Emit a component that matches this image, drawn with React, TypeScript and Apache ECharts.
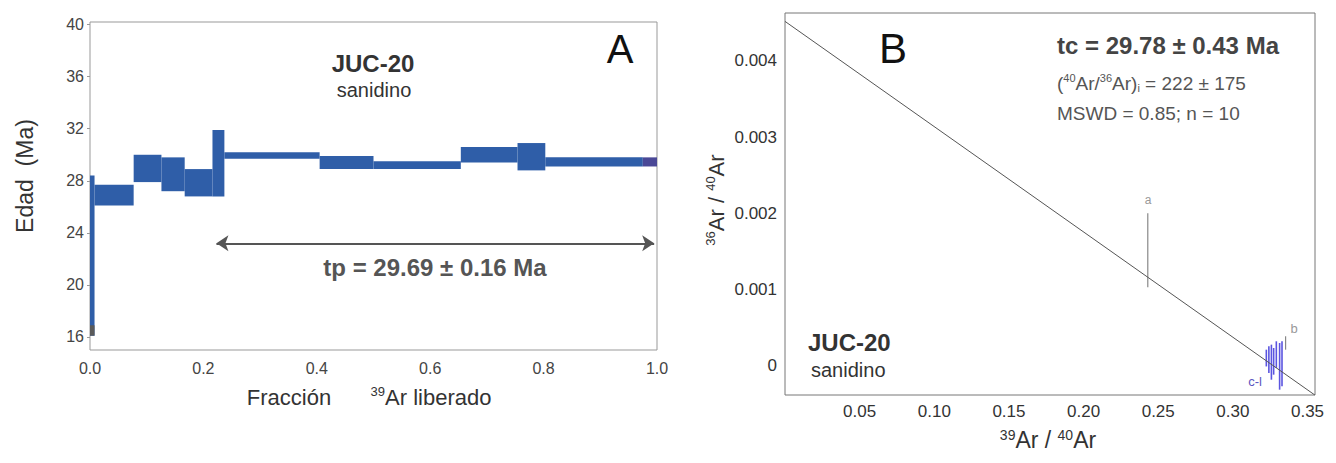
import React, { useEffect, useRef } from 'react';
import * as echarts from 'echarts';

const FONT = "'Liberation Sans', Arial, Helvetica, sans-serif";

// ---- Panel A: age spectrum ----
const stepBounds = [0, 0.008, 0.077, 0.126, 0.167, 0.216, 0.237, 0.405, 0.5, 0.654, 0.754, 0.803, 0.975, 1.0];
const ageLow = [16.1, 26.1, 27.9, 27.2, 26.8, 26.8, 29.7, 28.9, 28.9, 29.4, 28.8, 29.1, 29.1];
const ageHigh = [28.4, 27.7, 30.0, 29.8, 28.9, 31.9, 30.2, 29.9, 29.5, 30.6, 30.9, 29.8, 29.8];
const stepColors = ['#2f5ea8', '#2f5ea8', '#2f5ea8', '#2f5ea8', '#2f5ea8', '#2f5ea8', '#2f5ea8', '#2f5ea8', '#2f5ea8', '#2f5ea8', '#2f5ea8', '#2f5ea8', '#4a4896'];
const shadeStep = [0, 0.008, 16.1, 16.9];
const ageTicks = [16, 20, 24, 28, 32, 36, 40];
const fracTicks = [0, 0.2, 0.4, 0.6, 0.8, 1.0];
const plateauArrow = [[0.223, 23.2], [0.995, 23.2]];

// ---- Panel B: inverse isochron ----
const isoYIntercept = 0.00452;
const isoXIntercept = 0.327;
const isoXRange = [0, 0.355];
const pointA = { x: 0.243, low: 0.00103, high: 0.002 };
const pointB = { x: 0.3353, low: 0.00021, high: 0.000386 };
const clusterX = [0.3224, 0.3241, 0.3258, 0.3273, 0.3291, 0.3313, 0.3329];
const clusterLow = [-0.00001, -0.000096, -0.000184, -0.000118, -0.00003, -0.000315, -0.00027];
const clusterHigh = [0.00021, 0.000255, 0.000276, 0.000232, 0.00032, 0.000298, 0.00032];
const isoXTicks = [0.05, 0.1, 0.15, 0.2, 0.25, 0.3, 0.35];
const isoYTicks = [0, 0.001, 0.002, 0.003, 0.004];

function rectItem(color: string) {
  return (params: any, api: any) => {
    const p0 = api.coord([api.value(0), api.value(3)]);
    const p1 = api.coord([api.value(1), api.value(2)]);
    return {
      type: 'rect',
      shape: { x: p0[0], y: p0[1], width: p1[0] - p0[0], height: p1[1] - p0[1] },
      style: { fill: color || stepColors[params.dataIndex] },
    };
  };
}

function barItem(color: string, width: number) {
  return (params: any, api: any) => {
    const p0 = api.coord([api.value(0), api.value(1)]);
    const p1 = api.coord([api.value(0), api.value(2)]);
    return {
      type: 'line',
      shape: { x1: p0[0], y1: p0[1], x2: p1[0], y2: p1[1] },
      style: { stroke: color, lineWidth: width },
    };
  };
}

function txt(x: number, y: number, text: string, size: number, opts: any = {}) {
  return {
    type: 'text',
    x,
    y,
    rotation: opts.rotation || 0,
    style: {
      text,
      fontSize: size,
      fontFamily: FONT,
      fontWeight: opts.bold ? 'bold' : 'normal',
      fill: opts.color || '#333',
      align: opts.align || 'center',
      verticalAlign: 'middle',
      rich: opts.rich,
    },
  };
}

function supRich(size: number, color: string) {
  return {
    n: { fontSize: size, fontFamily: FONT, fill: color, lineHeight: size + 2 },
    s: { fontSize: Math.round(size * 0.6), fontFamily: FONT, fill: color, verticalAlign: 'top', lineHeight: Math.round(size * 0.6) },
    b: { fontSize: Math.round(size * 0.6), fontFamily: FONT, fill: color, verticalAlign: 'bottom', lineHeight: Math.round(size * 0.6) },
  };
}

export default function App() {
  const ref = useRef<HTMLDivElement>(null);
  useEffect(() => {
    const chart = echarts.init(ref.current!, null, { renderer: 'svg' });
    const steps = ageLow.map((lo, i) => [stepBounds[i], stepBounds[i + 1], lo, ageHigh[i]]);
    const clusterData = clusterX.map((x, i) => [x, clusterLow[i], clusterHigh[i]]);
    const isoLine = isoXRange.map((x) => [x, isoYIntercept * (1 - x / isoXIntercept)]);
    const labelStyleA = { fontSize: 16, color: '#444', fontFamily: FONT };
    const labelStyleB = { fontSize: 17, color: '#333', fontFamily: FONT };

    chart.setOption({
      animation: false,
      backgroundColor: '#fff',
      grid: [
        { left: 90, top: 22, width: 567, height: 328, show: true, borderColor: '#999', borderWidth: 1 },
        { left: 785, top: 13, width: 530, height: 382, show: true, borderColor: '#777', borderWidth: 1 },
      ],
      xAxis: [
        {
          gridIndex: 0, type: 'value', min: 0, max: 1,
          axisLine: { show: false }, splitLine: { show: false }, axisTick: { show: false },
          axisLabel: { ...labelStyleA, margin: 10, customValues: fracTicks, formatter: (v: number) => v.toFixed(1) },
        },
        {
          gridIndex: 1, type: 'value', min: 0, max: 0.355,
          axisLine: { show: false }, splitLine: { show: false }, axisTick: { show: false },
          axisLabel: { ...labelStyleB, margin: 8, customValues: isoXTicks, formatter: (v: number) => v.toFixed(2) },
        },
      ],
      yAxis: [
        {
          gridIndex: 0, type: 'value', min: 15, max: 40.2,
          axisLine: { show: false }, splitLine: { show: false },
          axisTick: { show: true, length: 3, lineStyle: { color: '#999' }, customValues: ageTicks },
          axisLabel: { ...labelStyleA, margin: 6, customValues: ageTicks },
        },
        {
          gridIndex: 1, type: 'value', min: -0.000385, max: 0.00463,
          axisLine: { show: false }, splitLine: { show: false }, axisTick: { show: false },
          axisLabel: { ...labelStyleB, margin: 8, customValues: isoYTicks, formatter: (v: number) => (v === 0 ? '0' : v.toFixed(3)) },
        },
      ],
      series: [
        {
          type: 'custom', xAxisIndex: 0, yAxisIndex: 0, clip: true,
          renderItem: rectItem(''), encode: { x: [0, 1], y: [2, 3] }, data: steps,
        },
        {
          type: 'custom', xAxisIndex: 0, yAxisIndex: 0,
          renderItem: rectItem('#5a5a5a'), encode: { x: [0, 1], y: [2, 3] }, data: [shadeStep],
        },
        {
          type: 'lines', coordinateSystem: 'cartesian2d', xAxisIndex: 0, yAxisIndex: 0,
          symbol: ['arrow', 'arrow'], symbolSize: 12,
          lineStyle: { color: '#555', width: 2, opacity: 1 },
          data: [{ coords: plateauArrow }],
        },
        {
          type: 'line', xAxisIndex: 1, yAxisIndex: 1, data: isoLine, showSymbol: false, clip: true,
          lineStyle: { color: '#555', width: 1 },
        },
        {
          type: 'custom', xAxisIndex: 1, yAxisIndex: 1,
          renderItem: barItem('#888', 1.2), encode: { x: 0, y: [1, 2] },
          data: [[pointA.x, pointA.low, pointA.high], [pointB.x, pointB.low, pointB.high]],
        },
        {
          type: 'custom', xAxisIndex: 1, yAxisIndex: 1,
          renderItem: barItem('#5b55e0', 1.6), encode: { x: 0, y: [1, 2] },
          data: clusterData,
        },
      ],
      graphic: [
        // Panel A texts
        txt(25, 176, 'Edad  (Ma)', 23, { rotation: Math.PI / 2 }),
        txt(289, 397, 'Fracción', 22),
        txt(431, 397, '{s|39}{n|Ar liberado}', 22, { rich: supRich(22, '#333') }),
        txt(373, 63, 'JUC-20', 24, { bold: true, color: '#333' }),
        txt(374, 90, 'sanidino', 20, { color: '#333' }),
        txt(620, 49, 'A', 40, { color: '#111' }),
        txt(435, 267, 'tp = 29.69 ± 0.16 Ma', 24, { bold: true, color: '#555' }),
        // Panel B texts
        txt(893, 48, 'B', 42, { color: '#111' }),
        txt(1057, 45, 'tc = 29.78 ± 0.43 Ma', 24, { bold: true, color: '#444', align: 'left' }),
        txt(1057, 83, '{n|(}{s|40}{n|Ar/}{s|36}{n|Ar)}{b|i}{n| = 222 ± 175}', 19, { align: 'left', rich: supRich(19, '#555') }),
        txt(1057, 113, 'MSWD = 0.85; n = 10', 19, { align: 'left', color: '#555' }),
        txt(808, 342, 'JUC-20', 24, { bold: true, color: '#333', align: 'left' }),
        txt(811, 370, 'sanidino', 20, { color: '#333', align: 'left' }),
        txt(1148, 200, 'a', 12, { color: '#999' }),
        txt(1294, 328, 'b', 13, { color: '#999' }),
        txt(1255, 381, 'c-l', 13, { color: '#5b55c0' }),
        txt(716, 200, '{s|36}{n|Ar / }{s|40}{n|Ar}', 22, { rotation: Math.PI / 2, rich: supRich(22, '#333') }),
        txt(1048, 440, '{s|39}{n|Ar / }{s|40}{n|Ar}', 23, { rich: supRich(23, '#333') }),
      ],
    });
    return () => chart.dispose();
  }, []);
  return (
    <div
      ref={ref}
      style={{ position: 'fixed', left: 0, top: 0, width: 1336, height: 463, background: '#fff' }}
    />
  );
}
